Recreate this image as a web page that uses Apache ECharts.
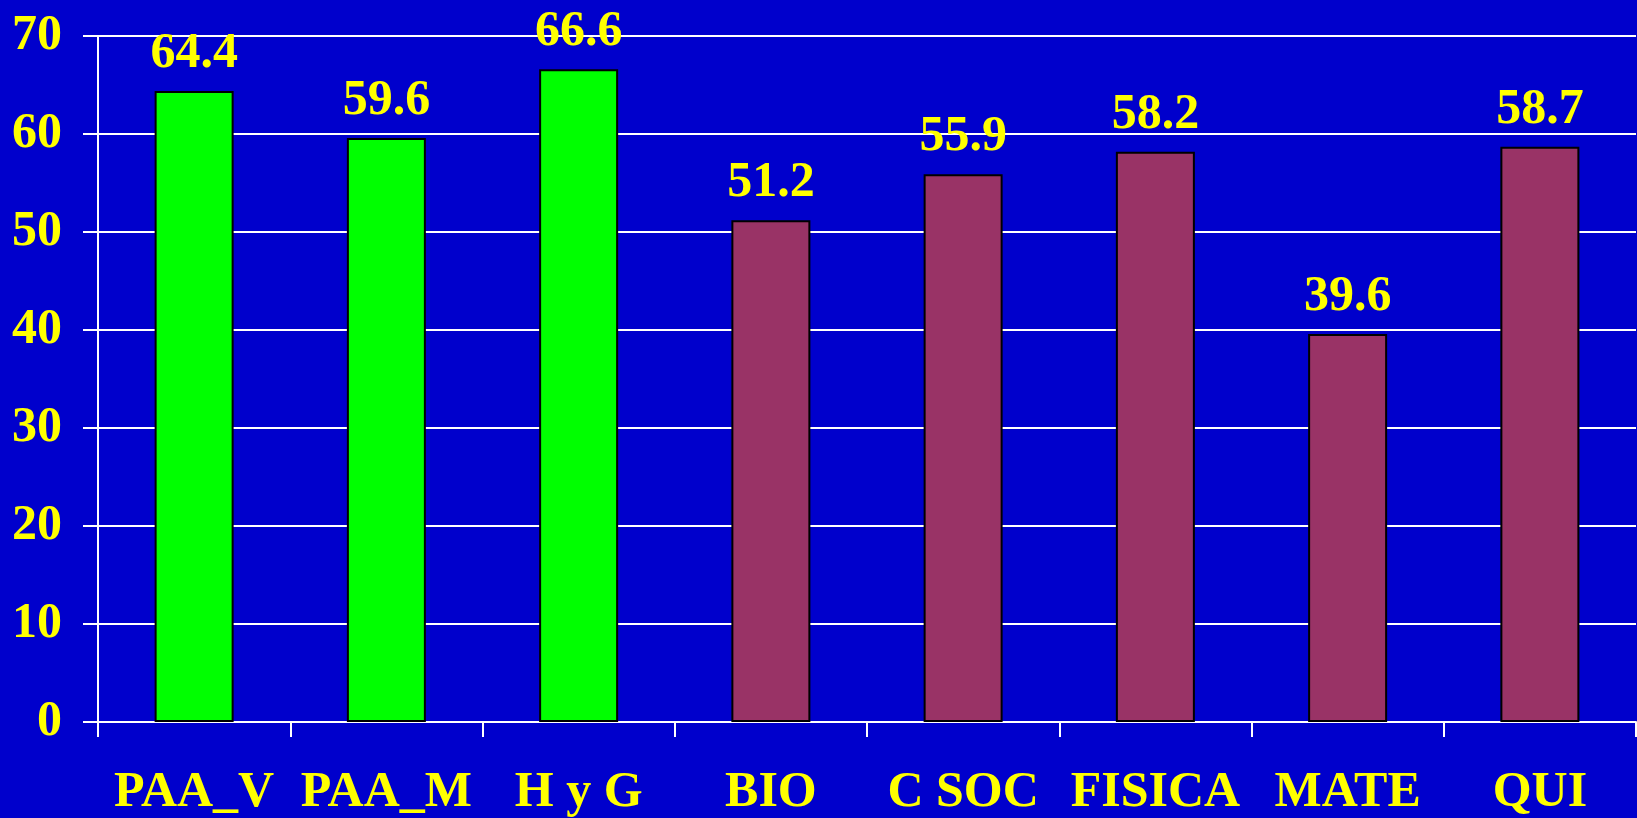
<!DOCTYPE html>
<html>
<head>
<meta charset="utf-8">
<script src="https://cdn.jsdelivr.net/npm/echarts@6/dist/echarts.min.js"></script>
<style>
html,body{margin:0;padding:0;background:#0000CC;}
#chart{width:1637px;height:818px;}
</style>
</head>
<body>
<div id="chart"></div>
<script>
const categories = ['PAA_V', 'PAA_M', 'H y G', 'BIO', 'C SOC', 'FISICA', 'MATE', 'QUI'];
const values = [64.4, 59.6, 66.6, 51.2, 55.9, 58.2, 39.6, 58.7];
const barColors = ['#00FF00', '#00FF00', '#00FF00', '#993366', '#993366', '#993366', '#993366', '#993366'];

const font = 'Liberation Serif, Times New Roman, serif';
const chart = echarts.init(document.getElementById('chart'));
chart.setOption({
  backgroundColor: '#0000CC',
  animation: false,
  grid: { left: 98, right: 1, top: 36, bottom: 95, containLabel: false },
  xAxis: {
    type: 'category',
    data: categories,
    axisLine: { lineStyle: { color: '#FFFFFF', width: 2 } },
    axisTick: { show: true, length: 15, lineStyle: { color: '#FFFFFF', width: 2 } },
    axisLabel: { color: '#FFFF00', fontFamily: font, fontWeight: 'bold', fontSize: 50, margin: 46, interval: 0 }
  },
  yAxis: {
    type: 'value',
    min: 0, max: 70, interval: 10,
    axisLine: { show: true, lineStyle: { color: '#FFFFFF', width: 2 } },
    axisTick: { show: true, length: 15, lineStyle: { color: '#FFFFFF', width: 2 } },
    splitLine: { show: true, lineStyle: { color: '#FFFFFF', width: 2 } },
    axisLabel: { color: '#FFFF00', fontFamily: font, fontWeight: 'bold', fontSize: 50, margin: 36, padding: [8, 0, 0, 0] }
  },
  series: [{
    type: 'bar',
    barWidth: 79,
    data: values.map((v, i) => ({ value: v, itemStyle: { color: barColors[i] } })),
    itemStyle: { borderColor: '#000000', borderWidth: 2 },
    label: {
      show: true, position: 'top', distance: 12,
      color: '#FFFF00', fontFamily: font, fontWeight: 'bold', fontSize: 50,
      formatter: p => p.value.toFixed(1)
    }
  }]
});
</script>
</body>
</html>
